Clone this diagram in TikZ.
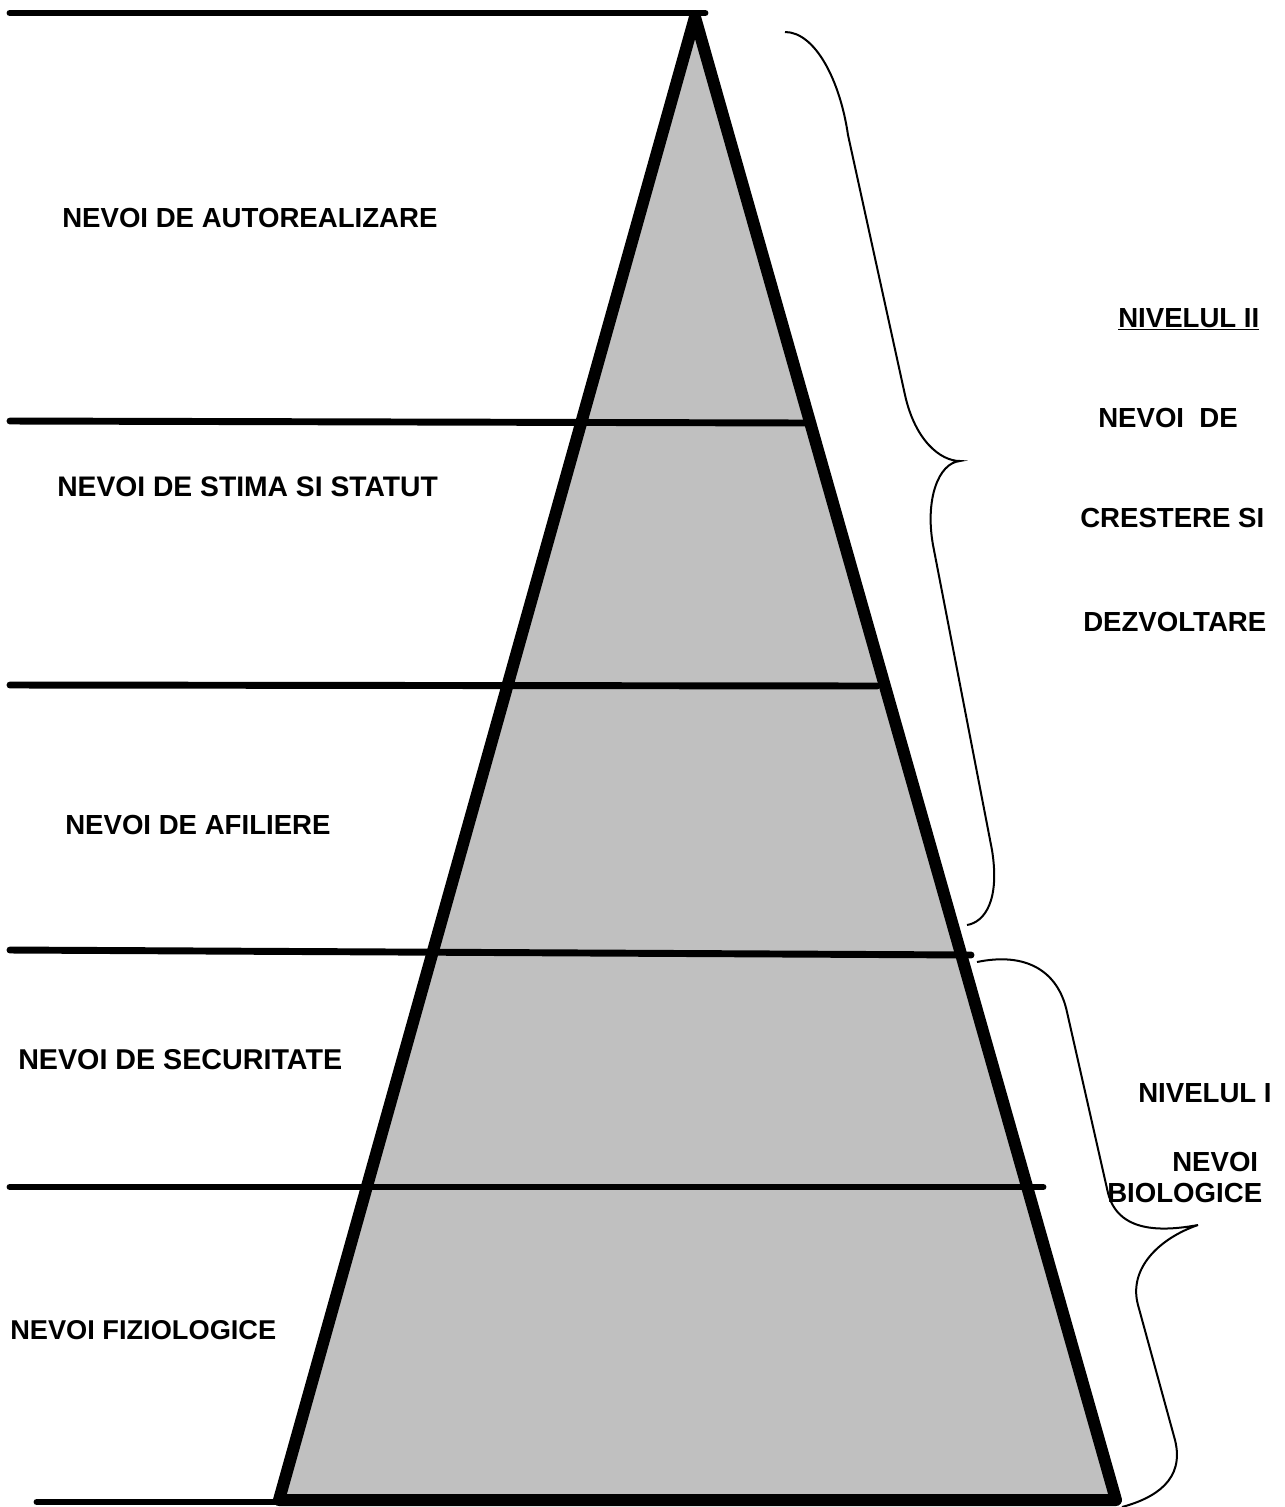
\documentclass[tikz,border=0pt]{standalone}
\usepackage{fontspec}
\setmainfont{Liberation Sans}
\begin{document}
\begin{tikzpicture}[x=0.75pt,y=-0.75pt,
  level/.style={line width=5.2pt,line cap=round},
  edge/.style={line width=9pt,line join=round,line cap=round},
  brace/.style={line width=1.5pt},
  lab/.style={anchor=west,inner sep=0pt,font=\fontsize{20.7}{24}\selectfont\bfseries}]
\useasboundingbox (0,0) rectangle (1285,1507);

% pyramid corners
\coordinate (apex) at (695,17);
\coordinate (bl) at (279,1500);
\coordinate (br) at (1116,1500);

\fill[fill={rgb,255:red,192;green,192;blue,192}] (apex) -- (br) -- (bl) -- cycle;

% level lines
\draw[level] (10,13) -- (705,13);
\draw[level] (10,421) -- (805,423);
\draw[level] (10,685) -- (877,686);
\draw[level] (10,950) -- (971,955);
\draw[level] (10,1187) -- (1043,1187);
\draw[level] (37,1502) -- (1116,1502);

% pyramid outline
\draw[edge] (bl) -- (apex) -- (br) -- cycle;

% upper brace
\draw[brace] (785,32) .. controls (815,32) and (840,80) .. (848,135)
  -- (905,395) .. controls (915,440) and (940,461) .. (960,461)
  .. controls (938,463) and (925,500) .. (933,545)
  -- (992,850) .. controls (1000,900) and (985,922) .. (967,925);

% lower brace
\draw[brace] (977,962) .. controls (1025,952) and (1058,970) .. (1067,1012)
  -- (1108,1193) .. controls (1118,1232) and (1160,1232) .. (1198,1225)
  .. controls (1160,1238) and (1128,1268) .. (1138,1305)
  -- (1175,1440) .. controls (1185,1480) and (1155,1498) .. (1122,1507);

% left labels
\node[lab] (l6) at (62,218) {NEVOI DE AUTOREALIZARE};
\node[lab,font=\fontsize{21.2}{24}\selectfont\bfseries] (l5) at (57,487) {NEVOI DE STIMA SI STATUT};
\node[lab] (l4) at (65,825) {NEVOI DE AFILIERE};
\node[lab,font=\fontsize{21.5}{24}\selectfont\bfseries] (l3) at (18,1060) {NEVOI DE SECURITATE};
\node[lab,font=\fontsize{20.4}{24}\selectfont\bfseries] (l2) at (10,1330) {NEVOI FIZIOLOGICE};

% right labels
\node[lab,anchor=base west] (n2) at (1118,327) {\underline{NIVELUL II}};
\node[lab] (n2a) at (1098,418) {NEVOI\ \ DE};
\node[lab] (n2b) at (1080,518) {CRESTERE SI};
\node[lab] (n2c) at (1083,622) {DEZVOLTARE};

\node[lab] (n1) at (1138,1093) {NIVELUL I};
\node[lab] (n1a) at (1172,1162) {NEVOI};
\node[lab] (n1b) at (1107,1193) {BIOLOGICE};
\end{tikzpicture}
\end{document}
